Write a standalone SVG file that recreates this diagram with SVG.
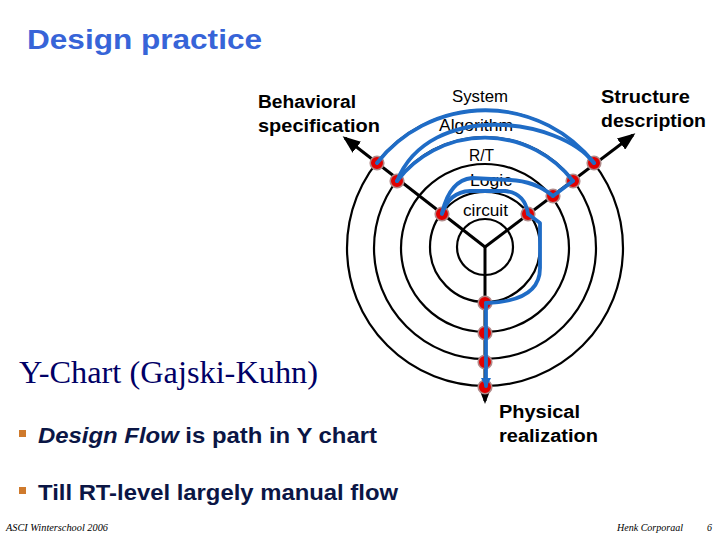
<svg xmlns="http://www.w3.org/2000/svg" width="720" height="540" viewBox="0 0 720 540">
<defs>
<style>
.ring{fill:none;stroke:#000;stroke-width:2.2}
.axis{fill:none;stroke:#000;stroke-width:3}
.flow{fill:none;stroke:#1f6cc6;stroke-width:3.8;stroke-linecap:round;stroke-linejoin:round}
.dot{fill:#e00000;stroke:#b08a8a;stroke-width:1.6}
.lbl{font-family:"Liberation Sans",Arial,sans-serif;font-weight:bold;font-size:18px;fill:#000}
.lvl{font-family:"Liberation Sans",Arial,sans-serif;font-size:17px;fill:#000}
.bul{font-family:"Liberation Sans",Arial,sans-serif;font-weight:bold;font-size:22px;fill:#0b1645}
.foot{font-family:"Liberation Serif","Times New Roman",serif;font-style:italic;font-size:10px;fill:#000}
</style>
<marker id="ah" markerUnits="userSpaceOnUse" markerWidth="18" markerHeight="14" refX="15" refY="7" orient="auto">
<path d="M0,0 L18,7 L0,14 z" fill="#000"/>
</marker>
<marker id="bh" markerUnits="userSpaceOnUse" markerWidth="10" markerHeight="10" refX="8" refY="5" orient="auto">
<path d="M0,0 L10,5 L0,10 z" fill="#1f6cc6"/>
</marker>
</defs>
<rect width="720" height="540" fill="#fff"/>

<text x="27" y="49" font-family="'Liberation Sans',Arial,sans-serif" font-weight="bold" font-size="28" fill="#3764d8" textLength="235" lengthAdjust="spacingAndGlyphs">Design practice</text>

<g id="labels">
<text class="lbl" x="258" y="108" textLength="98" lengthAdjust="spacingAndGlyphs">Behavioral</text>
<text class="lbl" x="258" y="132" textLength="122" lengthAdjust="spacingAndGlyphs">specification</text>
<text class="lbl" x="601" y="103" textLength="89" lengthAdjust="spacingAndGlyphs">Structure</text>
<text class="lbl" x="601" y="127" textLength="105" lengthAdjust="spacingAndGlyphs">description</text>
<text class="lbl" x="499" y="418" textLength="81" lengthAdjust="spacingAndGlyphs">Physical</text>
<text class="lbl" x="499" y="442" textLength="99" lengthAdjust="spacingAndGlyphs">realization</text>
<text class="lvl" x="452" y="102" textLength="56" lengthAdjust="spacingAndGlyphs">System</text>
<text class="lvl" x="439" y="131" textLength="74" lengthAdjust="spacingAndGlyphs">Algorithm</text>
<text class="lvl" x="469" y="161" textLength="25" lengthAdjust="spacingAndGlyphs">R/T</text>
<text class="lvl" x="470" y="186" textLength="42" lengthAdjust="spacingAndGlyphs">Logic</text>
<text class="lvl" x="463" y="216" textLength="45" lengthAdjust="spacingAndGlyphs">circuit</text>
</g>

<g id="rings">
<circle class="ring" cx="485" cy="247" r="28"/>
<circle class="ring" cx="485" cy="247" r="55"/>
<circle class="ring" cx="485" cy="248" r="84"/>
<circle class="ring" cx="485" cy="248" r="111"/>
<circle class="ring" cx="485" cy="248" r="138"/>
</g>

<g id="axes">
<line class="axis" x1="485" y1="247" x2="345" y2="138" marker-end="url(#ah)"/>
<line class="axis" x1="485" y1="247" x2="633" y2="135" marker-end="url(#ah)"/>
<line class="axis" x1="485" y1="247" x2="485" y2="401" marker-end="url(#ah)"/>
</g>

<g id="points">
<g id="b-system"><circle class="dot" cx="377" cy="163" r="6.8"/></g>
<g id="b-algorithm"><circle class="dot" cx="397" cy="181" r="6.8"/></g>
<g id="b-logic"><circle class="dot" cx="442" cy="214" r="6.8"/></g>
<g id="s-system"><circle class="dot" cx="594" cy="163" r="6.8"/></g>
<g id="s-algorithm"><circle class="dot" cx="573" cy="181" r="6.8"/></g>
<g id="s-rt"><circle class="dot" cx="553" cy="196" r="6.8"/></g>
<g id="s-logic"><circle class="dot" cx="528" cy="214" r="6.8"/></g>
<g id="p-1"><circle class="dot" cx="485" cy="303" r="6.8"/></g>
<g id="p-2"><circle class="dot" cx="485" cy="333" r="6.8"/></g>
<g id="p-3"><circle class="dot" cx="485" cy="362" r="6.8"/></g>
<g id="p-4"><circle class="dot" cx="485" cy="387" r="6.8"/></g>
</g>

<g id="connectors">
<path class="flow" d="M377,163 A138,138 0 0 1 594,163"/>
<path class="flow" d="M594,163 C560,118 430,100 397,181"/>
<path class="flow" d="M397,181 A111,111 0 0 1 573,181"/>
<path class="flow" d="M573,181 L553,196"/>
<path class="flow" d="M553,196 Q535,181 510,180 L472,178 Q450,180 442,213"/>
<path class="flow" d="M442,214 Q449,192 470,191 L505,191 Q525,193 528,214"/>
<path class="flow" d="M528,214 L540,223 L540,268 C540,292 520,302 486,303"/>
<path class="flow" d="M486,303 L486,386" marker-end="url(#bh)"/>
</g>

<text x="19" y="383" font-family="'Liberation Serif','Times New Roman',serif" font-size="31" fill="#000066" textLength="299" lengthAdjust="spacingAndGlyphs">Y-Chart (Gajski-Kuhn)</text>

<g id="bullets">
<rect x="19" y="430" width="7" height="7" fill="#cf7a2c"/>
<text class="bul" x="38" y="443" textLength="339" lengthAdjust="spacingAndGlyphs"><tspan font-style="italic">Design Flow</tspan> is path in Y chart</text>
<rect x="19" y="487" width="7" height="7" fill="#cf7a2c"/>
<text class="bul" x="38" y="500" textLength="360" lengthAdjust="spacingAndGlyphs">Till RT-level largely manual flow</text>
</g>

<g id="footer">
<text class="foot" x="6" y="531" textLength="102" lengthAdjust="spacingAndGlyphs">ASCI Winterschool 2006</text>
<text class="foot" x="617" y="531" textLength="66" lengthAdjust="spacingAndGlyphs">Henk Corporaal</text>
<text class="foot" x="707" y="531">6</text>
</g>
</svg>
